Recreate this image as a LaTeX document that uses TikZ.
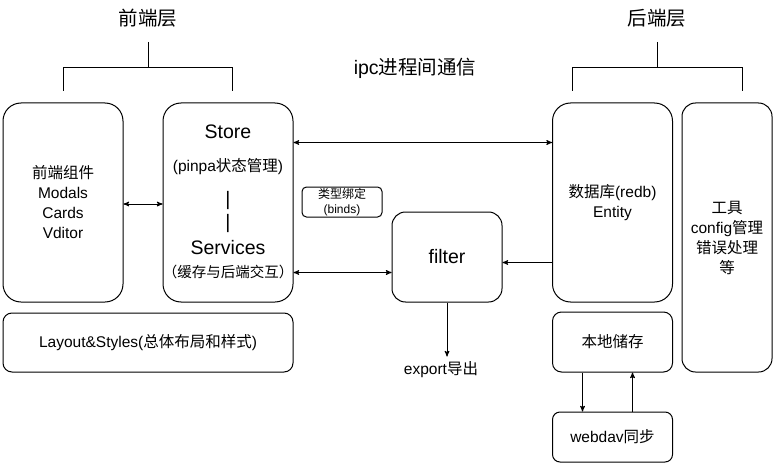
\documentclass[tikz,border=0pt]{standalone}
\usepackage{fontspec}
\setmainfont{Liberation Sans}
\newfontfamily\cjk{Noto Sans CJK SC}
\newcommand{\zh}[1]{{\cjk #1}}
\usetikzlibrary{arrows, positioning}

\begin{document}
\begin{tikzpicture}[x=1pt, y=-1pt, >=stealth', line width=1pt]
    \tikzstyle{box} = [draw, inner sep=0pt, text centered, align=center, font=\fontsize{15.5}{20}\selectfont]
    \tikzstyle{big} = [inner sep=0pt, font=\fontsize{19.5}{23}\selectfont]
    \tikzstyle{txt} = [inner sep=0pt, font=\fontsize{15.5}{20}\selectfont]
    \useasboundingbox (0,0) rectangle (775,465);

    \node [big] at (148,18) (front) {\zh{前端层}};
    \node [big] at (657,18) (back) {\zh{后端层}};
    \node [big] at (415,68) (ipc) {ipc\zh{进程间通信}};

    % front end
    \node [box, minimum width=120pt, minimum height=199pt, rounded corners=18pt] at (63,202.5) (comp) {\zh{前端组件}\\Modals\\Cards\\Vditor};
    \node [box, minimum width=130pt, minimum height=199pt, rounded corners=18pt] at (228,202.5) (store) {};
    \node [big] at (228,132) (storeT) {Store};
    \node [txt] at (228,167) (pinpa) {(pinpa\zh{状态管理})};
    \node [big] at (228,201) (bar1) {|};
    \node [big] at (228,224) (bar2) {|};
    \node [big] at (228,248) (serv) {Services};
    \node [txt, font=\fontsize{14.5}{18}\selectfont] at (228,272) (cache) {\zh{（缓存与后端交互）}};
    \node [box, minimum width=290pt, minimum height=59pt, rounded corners=9pt] at (148,342.5) (layout) {Layout\&Styles(\zh{总体布局和样式})};

    % middle
    \node [box, font=\fontsize{12}{15}\selectfont, minimum width=80pt, minimum height=30pt, rounded corners=4.5pt] at (342,202) (binds) {\zh{类型绑定}\\(binds)};
    \node [box, big, minimum width=110pt, minimum height=90pt, rounded corners=13.5pt] at (447,257) (filter) {filter};
    \node [txt, inner sep=4pt, below=54pt of filter, xshift=-6pt] (export) {export\zh{导出}};

    % back end
    \node [box, minimum width=120pt, minimum height=199pt, rounded corners=18pt] at (612.5,202.5) (db) {\zh{数据库}(redb)\\Entity};
    \node [box, minimum width=90pt, minimum height=269pt, rounded corners=13.5pt] at (727,237.5) (tool) {\zh{工具}\\config\zh{管理}\\\zh{错误处理}\\\zh{等}};
    \node [box, minimum width=120pt, minimum height=60pt, rounded corners=9pt] at (612.5,342) (local) {\zh{本地储存}};
    \node [box, minimum width=120pt, minimum height=50pt, rounded corners=7.5pt] at (612.5,437) (webdav) {webdav\zh{同步}};

    % brackets
    \draw ([yshift=-24pt]front.center) -- ++(0,26) -| ([yshift=11pt]comp.north);
    \draw ([yshift=-50pt]front.center) -| ([xshift=4pt, yshift=11pt]store.north);
    \draw ([yshift=-24pt]back.center) -- ++(0,26) -| ([xshift=-40pt, yshift=11pt]db.north);
    \draw ([yshift=-50pt]back.center) -| ([xshift=15pt, yshift=11pt]tool.north);

    % arrows
    \draw [<->] ([yshift=-1.5pt]comp.east) -- ([yshift=-1.5pt]store.west);
    \draw [<->] ([yshift=60pt]store.east) -- ([yshift=60pt]store.east -| db.west);
    \draw [<->] ([yshift=-70pt]store.east) -- ([yshift=-70pt]store.east -| filter.west);
    \draw [->] ([yshift=-60pt]db.west) -- ([yshift=-60pt]db.west -| filter.east);
    \draw [->] (filter.south) -- (filter.south |- export.north);
    \draw [->] ([xshift=-30pt]local.south) -- ([xshift=-30pt]webdav.north);
    \draw [->] ([xshift=20pt]webdav.north) -- ([xshift=20pt]local.south);
\end{tikzpicture}
\end{document}
